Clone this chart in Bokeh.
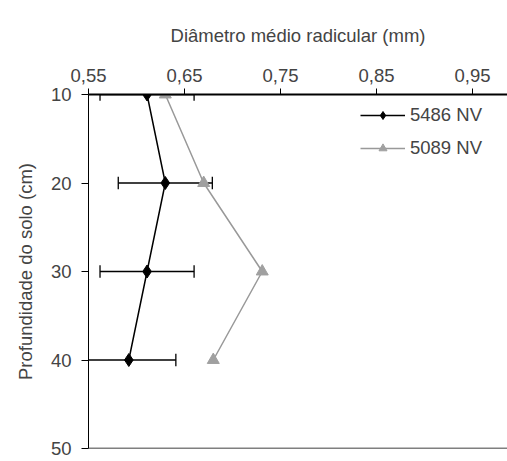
from bokeh.plotting import figure
from bokeh.models import Range1d, FixedTicker, Span, Legend, LegendItem, ColumnDataSource, CustomJSTickFormatter
from bokeh.embed import file_html
from bokeh.resources import INLINE

depth = [10, 20, 30, 40]
d5486 = [0.611, 0.630, 0.611, 0.592]
err5486 = [0.049, 0.049, 0.049, 0.049]
d5089 = [0.630, 0.670, 0.731, 0.680]
x_ticks = [0.55, 0.65, 0.75, 0.85, 0.95]
y_ticks = [10, 20, 30, 40, 50]

FONT = "Liberation Sans"
FS = "18.5px"

p = figure(width=507, height=461, output_backend="svg", toolbar_location=None,
           x_range=Range1d(0.55, 0.9865), y_range=Range1d(50, 10),
           x_axis_location="above", min_border_left=88, min_border_top=94,
           min_border_right=0, min_border_bottom=13)
p.outline_line_color = None
p.grid.visible = False
p.background_fill_color = "white"
p.border_fill_color = "white"

xa = p.xaxis[0]
xa.ticker = FixedTicker(ticks=x_ticks)
xa.formatter = CustomJSTickFormatter(code="return tick.toFixed(2).replace('.', ',');")
xa.axis_label = "Diâmetro médio radicular (mm)"
xa.axis_label_text_font = FONT
xa.axis_label_text_font_style = "normal"
xa.axis_label_text_font_size = FS
xa.axis_label_standoff = 20
xa.major_label_text_font = FONT
xa.major_label_text_font_size = FS
xa.major_label_standoff = 7
xa.major_tick_out = 6
xa.major_tick_in = 0
xa.minor_tick_out = 0
xa.minor_tick_in = 0
xa.axis_line_width = 2
xa.axis_line_color = "black"
xa.major_tick_line_color = "black"

ya = p.yaxis[0]
ya.ticker = FixedTicker(ticks=y_ticks)
ya.axis_label = "Profundidade do solo (cm)"
ya.axis_label_text_font = FONT
ya.axis_label_text_font_style = "normal"
ya.axis_label_text_font_size = FS
ya.axis_label_standoff = 12
ya.major_label_text_font = FONT
ya.major_label_text_font_size = FS
ya.major_label_standoff = 10
ya.major_tick_out = 7
ya.major_tick_in = 0
ya.minor_tick_out = 0
ya.minor_tick_in = 0
ya.axis_line_color = "black"
ya.major_tick_line_color = "black"

p.add_layout(Span(location=50, dimension="width", line_color="black", line_width=1.5))

# error bars for 5486 NV
lo = [v - e for v, e in zip(d5486, err5486)]
hi = [v + e for v, e in zip(d5486, err5486)]
esrc = ColumnDataSource(dict(y=depth, lo=lo, hi=hi,
                             ya=[d - 0.7 for d in depth], yb=[d + 0.7 for d in depth]))
p.segment(x0="lo", x1="hi", y0="y", y1="y", source=esrc, line_color="black", line_width=1.3)
p.segment(x0="lo", x1="lo", y0="ya", y1="yb", source=esrc, line_color="black", line_width=1.3)
p.segment(x0="hi", x1="hi", y0="ya", y1="yb", source=esrc, line_color="black", line_width=1.3)

l2 = p.line(d5089, depth, line_color="#999999", line_width=1.5)
m2 = p.scatter(d5089, depth, marker="triangle", size=12, fill_color="#a0a0a0", line_color="#a0a0a0")
l1 = p.line(d5486, depth, line_color="black", line_width=1.5)
m1 = p.scatter(d5486, depth, marker="diamond", size=13, fill_color="black", line_color="black")

legend = Legend(items=[LegendItem(label="5486 NV", renderers=[l1, m1]),
                       LegendItem(label="5089 NV", renderers=[l2, m2])],
                border_line_color=None, background_fill_alpha=0,
                label_text_font=FONT, label_text_font_size=FS,
                glyph_width=45, glyph_height=20, spacing=11, padding=0,
                label_standoff=5, margin=0)
legend.location = (272, 289)
p.add_layout(legend)

open("out.html", "w").write(file_html(p, INLINE))
